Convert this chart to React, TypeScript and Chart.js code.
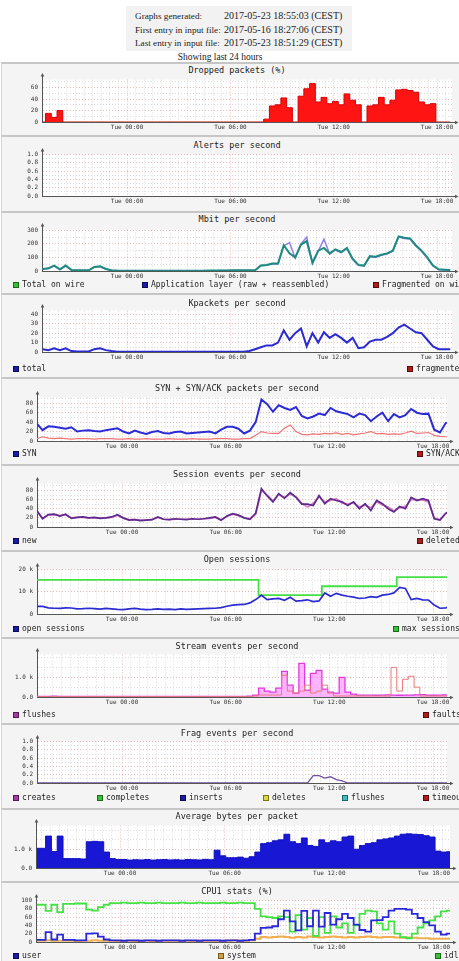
import React, { useEffect, useRef } from "react";
import { Chart, registerables } from "chart.js";

Chart.register(...registerables);

const MONO = "'DejaVu Sans Mono', monospace";
const SERIF = "'Liberation Serif', 'DejaVu Serif', serif";

// ---------- header ----------
const HEADER_ROWS = [
  ["Graphs generated:", "2017-05-23 18:55:03 (CEST)"],
  ["First entry in input file:", "2017-05-16 18:27:06 (CEST)"],
  ["Last entry in input file:", "2017-05-23 18:51:29 (CEST)"],
];
const HEADER_NOTE = "Showing last 24 hours";

// ---------- time axis ----------
const SAMPLE_STEP_H = 1 / 3; // 20 minutes between samples
const X_TICK_HOURS = [0, 6, 12, 18];
const X_TICK_LABELS = ["Tue 00:00", "Tue 06:00", "Tue 12:00", "Tue 18:00"];

// ---------- series (20-min samples) ----------
const DROPPED_PCT = [
  0, 15, 8, 20, 0, 0, 0, 0, 0, 0, 0, 0,
  0, 0, 0, 0, 0, 0, 0, 0, 0, 0, 0, 0,
  0, 0, 0, 0, 0, 0, 0, 0, 0, 0, 0, 0,
  0, 0, 0, 5, 28, 30, 42, 25, 0, 45, 58, 67,
  35, 43, 32, 36, 30, 49, 38, 30, 0, 28, 30, 43,
  30, 38, 56, 57, 55, 52, 35, 30, 32, 0, 0, 0,
];

const MBIT_TOTAL = [
  15, 20, 40, 12, 40, 8, 5, 5, 5, 30, 35, 15,
  5, 3, 2, 2, 1, 2, 2, 2, 1, 2, 2, 2,
  2, 1, 2, 2, 2, 3, 3, 4, 4, 5, 5, 5,
  5, 6, 40, 45, 55, 55, 190, 130, 100, 195, 220, 60,
  150, 170, 130, 160, 140, 170, 90, 45, 40, 110, 105, 120,
  130, 150, 255, 245, 240, 190, 150, 100, 40, 12, 10, 8,
];
const MBIT_APP = [
  14, 19, 38, 11, 38, 7, 4, 4, 4, 28, 33, 14,
  4, 2, 1, 1, 1, 1, 1, 1, 1, 1, 1, 1,
  1, 1, 1, 1, 1, 2, 2, 3, 3, 4, 4, 4,
  4, 5, 38, 43, 52, 52, 185, 210, 95, 200, 250, 56,
  145, 235, 125, 155, 135, 165, 85, 42, 37, 105, 100, 115,
  125, 145, 250, 240, 235, 185, 145, 95, 37, 10, 8, 7,
];

const KPACKETS_TOTAL = [
  3, 2, 4, 2, 4, 1, 0.5, 0.5, 0.5, 3, 4, 2,
  1, 0.3, 0.3, 0.3, 0.3, 0.3, 0.3, 0.3, 0.3, 0.3, 0.3, 0.3,
  0.3, 0.3, 0.3, 0.3, 0.3, 0.3, 0.3, 0.3, 0.3, 0.3, 0.3, 0.3,
  1, 3, 5, 7, 7, 10, 23, 13, 20, 25, 6, 20,
  10, 21, 15, 19, 15, 10, 15, 4, 5, 11, 13, 13,
  16, 20, 26, 29, 25, 21, 20, 13, 6, 3, 3, 3,
];

const SYN = [
  37,
  23, 31, 30, 28, 26, 29, 20, 22, 23, 21, 20, 23,
  25, 27, 20, 16, 22, 18, 15, 19, 21, 17, 16, 19,
  20, 16, 17, 18, 19, 20, 16, 24, 30, 30, 26, 16,
  22, 40, 88, 78, 62, 76, 70, 66, 72, 53, 48, 52,
  58, 55, 70, 63, 60, 57, 50, 58, 55, 42, 52, 60,
  42, 57, 50, 55, 68, 60, 57, 58, 24, 18, 38, 41,
];
const SYN_ACK = [
  5,
  9, 6, 5, 6, 5, 4, 5, 5, 5, 4, 5, 5,
  5, 4, 4, 5, 4, 4, 5, 4, 4, 4, 5, 4,
  4, 4, 5, 4, 4, 4, 5, 5, 5, 4, 4, 5,
  5, 12, 20, 17, 16, 16, 27, 34, 20, 14, 13, 15,
  14, 16, 15, 17, 14, 16, 13, 15, 17, 20, 15, 16,
  14, 15, 14, 17, 21, 16, 17, 18, 12, 10, 9, 9,
];

const SESSION_NEW = [
  36,
  18, 27, 28, 24, 28, 19, 21, 22, 20, 21, 19, 20,
  22, 27, 20, 15, 16, 14, 15, 16, 22, 17, 16, 18,
  17, 16, 18, 17, 18, 20, 22, 15, 24, 29, 26, 20,
  17, 30, 84, 68, 55, 73, 63, 75, 65, 50, 50, 47,
  69, 51, 62, 58, 55, 47, 55, 40, 51, 36, 58, 51,
  40, 33, 45, 40, 65, 58, 62, 58, 18, 15, 30, 38,
];
const SESSION_DELETED = [
  34,
  19, 26, 27, 25, 27, 20, 21, 21, 20, 20, 20, 20,
  21, 26, 19, 16, 16, 15, 15, 16, 21, 17, 16, 17,
  17, 17, 17, 17, 18, 19, 21, 16, 23, 28, 25, 20,
  18, 28, 80, 70, 57, 71, 64, 72, 66, 52, 44, 52,
  66, 55, 58, 62, 52, 50, 53, 44, 48, 42, 55, 48,
  44, 35, 42, 45, 60, 60, 59, 55, 20, 16, 29, 37,
];

const OPEN_SESSIONS = [
  3400,
  3400, 2800, 2600, 2500, 2800, 2700, 2300, 2400, 2600, 2400, 2200, 2500,
  2300, 2100, 2000, 2300, 2500, 2200, 2000, 2100, 2300, 2100, 2200, 2000,
  2300, 2100, 2200, 2300, 2400, 2500, 2600, 2900, 3500, 4000, 4200, 4300,
  5000, 6500, 8400, 6500, 6800, 7000, 6200, 7500, 5800, 6000, 6400, 5600,
  5900, 9500, 8000, 9300, 8500, 8000, 7600, 7000, 7200, 7800, 7500, 8500,
  8800, 9500, 12000, 11500, 6500, 7000, 6400, 6300, 4000, 2600, 2800, 3400,
];
const MAX_SESSIONS = [
  15400,
  15400, 15400, 15400, 15400, 15400, 15400, 15400, 15400, 15400, 15400, 15400, 15400,
  15400, 15400, 15400, 15400, 15400, 15400, 15400, 15400, 15400, 15400, 15400, 15400,
  15400, 15400, 15400, 15400, 15400, 15400, 15400, 15400, 15400, 15400, 15400, 15400,
  15400, 15400, 8500, 8500, 8500, 8500, 8500, 8500, 8500, 8500, 8500, 8500,
  8500, 12500, 12500, 12500, 12500, 12500, 12500, 12500, 12500, 12500, 12500, 12500,
  12500, 12500, 16600, 16600, 16600, 16600, 16600, 16600, 16600, 16600, 16600, 16600,
];

const STREAM_FLUSHES = [
  30,
  30, 30, 40, 30, 30, 30, 30, 30, 30, 30, 30, 30,
  30, 30, 25, 30, 30, 30, 25, 30, 30, 30, 30, 30,
  30, 30, 30, 30, 30, 30, 30, 30, 30, 35, 35, 35,
  40, 100, 450, 300, 250, 450, 1300, 600, 200, 1700, 350, 1200,
  1350, 400, 250, 200, 1000, 250, 150, 100, 100, 100, 90, 100,
  110, 100, 90, 100, 100, 110, 120, 100, 90, 100, 110, 120,
];
const STREAM_FAULTS = [
  20,
  20, 20, 20, 20, 20, 20, 20, 20, 20, 20, 20, 20,
  20, 20, 20, 20, 20, 20, 20, 20, 20, 20, 20, 20,
  20, 20, 20, 20, 20, 20, 20, 20, 20, 20, 20, 20,
  20, 50, 100, 100, 100, 100, 1100, 300, 200, 300, 600, 200,
  300, 600, 200, 50, 50, 50, 50, 50, 50, 50, 50, 50,
  50, 1500, 300, 900, 1050, 500, 50, 50, 50, 50, 50, 50,
];

const FRAG_CREATES = [
  0,
  0, 0, 0, 0, 0, 0, 0, 0, 0, 0, 0, 0,
  0, 0, 0, 0, 0, 0, 0, 0, 0, 0, 0, 0,
  0, 0, 0, 0, 0, 0, 0, 0, 0, 0, 0, 0,
  0, 0, 0, 0, 0, 0, 0, 0, 0, 0, 0, 0.18,
  0.18, 0.12, 0.15, 0.08, 0.05, 0, 0, 0, 0, 0, 0, 0,
  0, 0, 0, 0, 0, 0, 0, 0, 0, 0, 0, 0,
];

const AVG_BYTES = [
  1050,
  1050, 1700, 880, 1700, 500, 500, 500, 480, 1400, 1420, 1400, 850,
  500, 450, 450, 420, 440, 430, 450, 420, 440, 450, 430, 440,
  420, 450, 440, 430, 460, 440, 950, 650, 550, 550, 580, 520,
  600, 850, 1300, 1350, 1450, 1500, 1800, 1400, 1300, 1600, 1200, 1150,
  1500, 1350, 1450, 1400, 1650, 1700, 1000, 1200, 1300, 1350, 1500, 1550,
  1600, 1700, 1800, 1820, 1800, 1780, 1720, 1650, 900, 850, 870, 870,
];

const CPU_USER = [
  5,
  5, 24, 6, 18, 5, 5, 4, 4, 20, 21, 13, 6,
  4, 4, 3, 4, 4, 3, 4, 4, 3, 4, 4, 4,
  3, 4, 4, 3, 4, 4, 4, 3, 4, 4, 3, 4,
  5, 20, 34, 35, 38, 55, 76, 50, 28, 75, 38, 76,
  37, 70, 42, 55, 68, 58, 42, 29, 25, 52, 53, 60,
  76, 80, 80, 78, 68, 58, 48, 40, 25, 18, 20, 21,
];
const CPU_SYSTEM = [
  3,
  3, 4, 3, 3, 3, 3, 2, 3, 3, 4, 3, 3,
  3, 2, 3, 3, 2, 3, 3, 2, 3, 3, 3, 3,
  3, 3, 2, 3, 3, 3, 3, 3, 3, 4, 3, 3,
  4, 8, 12, 11, 12, 13, 12, 10, 12, 11, 13, 12,
  11, 12, 13, 12, 11, 12, 11, 12, 13, 12, 11, 12,
  12, 11, 10, 11, 10, 9, 9, 8, 8, 8, 8, 8,
];
const CPU_IDLE = [
  90,
  90, 75, 90, 72, 92, 92, 93, 93, 78, 76, 84, 90,
  94, 94, 95, 94, 94, 95, 94, 94, 95, 94, 94, 94,
  95, 94, 94, 95, 94, 94, 94, 95, 94, 94, 95, 94,
  94, 80, 62, 60, 58, 62, 60, 25, 65, 30, 58, 15,
  60, 22, 62, 35, 45, 22, 40, 68, 76, 74, 45, 30,
  50, 20, 12, 9, 20, 35, 45, 52, 62, 74, 76, 72,
];

// ---------- y tick labels ----------
const Y_FRACTION_TICKS = [0, 0.2, 0.4, 0.6, 0.8, 1.0];
const Y_FRACTION_LABELS = ["0.0", "0.2", "0.4", "0.6", "0.8", "1.0"];

// ---------- layout ----------
const PAD_TOP = 7;
const X_AXIS_H = 12;
const TOP_AXIS = { axisW: 42, padRight: 7, xMin: -4.94, xMax: 18.87, sampleStart: -4.9 };
const MID_AXIS = { axisW: 37, padRight: 12, xMin: -4.92, xMax: 18.81, sampleStart: -4.93 };
const LOW_AXIS = { axisW: 36, padRight: 9, xMin: -4.82, xMax: 18.92, sampleStart: -4.77 };

const SQ = {
  green: ["#36c236", "#1a6a1a"],
  blue: ["#1c1ca8", "#0a0a55"],
  red: ["#b41c1c", "#5a0a0a"],
  purple: ["#a43ca4", "#521a52"],
  yellow: ["#d8d840", "#77771a"],
  cyan: ["#40bcbc", "#1a6666"],
  orange: ["#d0a048", "#7a5a1a"],
};

type Series = { label: string; values: number[]; line: string; width: number; fill?: string; step?: boolean };
type LegendItem = { label: string; sq: string[]; x: number };
type PanelSpec = {
  title: string; top: number; bottom: number; titleY: number;
  plotTop: number; plotBottom: number;
  axis: { axisW: number; padRight: number; xMin: number; xMax: number; sampleStart: number };
  yMax: number; yTicks: number[]; yLabels: string[];
  series: Series[]; legend?: LegendItem[]; legendY?: number;
};

const PANELS: PanelSpec[] = [
  {
    title: "Dropped packets (%)", top: 62, bottom: 135, titleY: 70, plotTop: 79, plotBottom: 122,
    axis: TOP_AXIS, yMax: 74, yTicks: [0, 20, 40, 60], yLabels: ["0", "20", "40", "60"],
    series: [{ label: "dropped", values: DROPPED_PCT, line: "#d40000", width: 1, fill: "#ff1414", step: true }],
  },
  {
    title: "Alerts per second", top: 135, bottom: 211, titleY: 145, plotTop: 154, plotBottom: 196,
    axis: TOP_AXIS, yMax: 1, yTicks: Y_FRACTION_TICKS, yLabels: Y_FRACTION_LABELS, series: [],
  },
  {
    title: "Mbit per second", top: 211, bottom: 293, titleY: 219, plotTop: 229, plotBottom: 271,
    axis: TOP_AXIS, yMax: 305, yTicks: [0, 100, 200, 300], yLabels: ["0", "100", "200", "300"],
    series: [
      { label: "Total on wire", values: MBIT_TOTAL, line: "#1c8c80", width: 2 },
      { label: "Application layer (raw + reassembled)", values: MBIT_APP, line: "#9080e6", width: 1.5 },
    ],
    legendY: 285,
    legend: [
      { label: "Total on wire", sq: SQ.green, x: 13 },
      { label: "Application layer (raw + reassembled)", sq: SQ.blue, x: 142 },
      { label: "Fragmented on wire", sq: SQ.red, x: 373 },
    ],
  },
  {
    title: "Kpackets per second", top: 293, bottom: 377, titleY: 303, plotTop: 310, plotBottom: 352,
    axis: TOP_AXIS, yMax: 44, yTicks: [0, 10, 20, 30, 40], yLabels: ["0", "10", "20", "30", "40"],
    series: [{ label: "total", values: KPACKETS_TOTAL, line: "#2a2ad2", width: 2 }],
    legendY: 369,
    legend: [
      { label: "total", sq: SQ.blue, x: 13 },
      { label: "fragmented", sq: SQ.red, x: 407 },
    ],
  },
  {
    title: "SYN + SYN/ACK packets per second", top: 377, bottom: 464, titleY: 388, plotTop: 397, plotBottom: 441,
    axis: MID_AXIS, yMax: 92, yTicks: [0, 20, 40, 60, 80], yLabels: ["0", "20", "40", "60", "80"],
    series: [
      { label: "SYN", values: SYN, line: "#2b2bd6", width: 2 },
      { label: "SYN/ACK", values: SYN_ACK, line: "#f07474", width: 1.2 },
    ],
    legendY: 454,
    legend: [
      { label: "SYN", sq: SQ.blue, x: 13 },
      { label: "SYN/ACK", sq: SQ.red, x: 417 },
    ],
  },
  {
    title: "Session events per second", top: 464, bottom: 550, titleY: 474, plotTop: 483, plotBottom: 527,
    axis: MID_AXIS, yMax: 95, yTicks: [0, 20, 40, 60, 80], yLabels: ["0", "20", "40", "60", "80"],
    series: [
      { label: "new", values: SESSION_NEW, line: "#5c2a8e", width: 1.7 },
      { label: "deleted", values: SESSION_DELETED, line: "#e27ec0", width: 1.7 },
    ],
    legendY: 541,
    legend: [
      { label: "new", sq: SQ.blue, x: 13 },
      { label: "deleted", sq: SQ.red, x: 417 },
    ],
  },
  {
    title: "Open sessions", top: 550, bottom: 637, titleY: 559, plotTop: 569, plotBottom: 614,
    axis: MID_AXIS, yMax: 20000, yTicks: [0, 10000, 20000], yLabels: ["0", "10 k", "20 k"],
    series: [
      { label: "open sessions", values: OPEN_SESSIONS, line: "#2b2bd2", width: 1.7 },
      { label: "max sessions", values: MAX_SESSIONS, line: "#44e044", width: 1.8, step: true },
    ],
    legendY: 629,
    legend: [
      { label: "open sessions", sq: SQ.blue, x: 13 },
      { label: "max sessions", sq: SQ.green, x: 393 },
    ],
  },
  {
    title: "Stream events per second", top: 637, bottom: 723, titleY: 646, plotTop: 654, plotBottom: 697,
    axis: MID_AXIS, yMax: 2150, yTicks: [0, 1000], yLabels: ["0.0", "1.0 k"],
    series: [
      { label: "faults", values: STREAM_FAULTS, line: "#e87a7a", width: 1, step: true },
      { label: "flushes", values: STREAM_FLUSHES, line: "#dd3cdd", width: 1.3, fill: "rgba(255,130,255,0.6)", step: true },
    ],
    legendY: 715,
    legend: [
      { label: "flushes", sq: SQ.purple, x: 13 },
      { label: "faults", sq: SQ.red, x: 423 },
    ],
  },
  {
    title: "Frag events per second", top: 723, bottom: 808, titleY: 733, plotTop: 741, plotBottom: 783,
    axis: MID_AXIS, yMax: 1, yTicks: Y_FRACTION_TICKS, yLabels: Y_FRACTION_LABELS,
    series: [{ label: "creates", values: FRAG_CREATES, line: "#74509e", width: 1.3 }],
    legendY: 798,
    legend: [
      { label: "creates", sq: SQ.purple, x: 13 },
      { label: "completes", sq: SQ.green, x: 97 },
      { label: "inserts", sq: SQ.blue, x: 180 },
      { label: "deletes", sq: SQ.yellow, x: 263 },
      { label: "flushes", sq: SQ.cyan, x: 342 },
      { label: "timeouts", sq: SQ.red, x: 423 },
    ],
  },
  {
    title: "Average bytes per packet", top: 808, bottom: 881, titleY: 816, plotTop: 825, plotBottom: 868,
    axis: LOW_AXIS, yMax: 2260, yTicks: [0, 1000], yLabels: ["0.0", "1.0 k"],
    series: [{ label: "bytes", values: AVG_BYTES, line: "#1010c0", width: 1, fill: "#1818d4", step: true }],
  },
  {
    title: "CPU1 stats (%)", top: 881, bottom: 961, titleY: 891, plotTop: 900, plotBottom: 942,
    axis: LOW_AXIS, yMax: 100, yTicks: [0, 20, 40, 60, 80, 100], yLabels: ["0", "20", "40", "60", "80", "100"],
    series: [
      { label: "user", values: CPU_USER, line: "#2828d8", width: 1.8, step: true },
      { label: "idle", values: CPU_IDLE, line: "#44e044", width: 1.8, step: true },
      { label: "system", values: CPU_SYSTEM, line: "#f2ae52", width: 2, step: true },
    ],
    legendY: 956,
    legend: [
      { label: "user", sq: SQ.blue, x: 13 },
      { label: "system", sq: SQ.orange, x: 218 },
      { label: "idle", sq: SQ.green, x: 435 },
    ],
  },
];

const MINOR_GRID = "#dcdcdc";
const MAJOR_GRID = "rgba(225,140,140,0.6)";
const AXIS_COLOR = "#555";

const rrdPlugin = {
  id: "rrdLook",
  beforeDraw(chart: any) {
    const { ctx, chartArea: a } = chart;
    ctx.save();
    ctx.fillStyle = "#ffffff";
    ctx.fillRect(a.left, a.top, a.right - a.left, a.bottom - a.top);
    ctx.restore();
  },
  afterDraw(chart: any) {
    const { ctx, chartArea: a } = chart;
    ctx.save();
    ctx.strokeStyle = AXIS_COLOR;
    ctx.fillStyle = AXIS_COLOR;
    ctx.lineWidth = 1;
    const lx = Math.round(a.left) + 0.5;
    const by = Math.round(a.bottom) + 0.5;
    ctx.beginPath();
    ctx.moveTo(lx, a.top);
    ctx.lineTo(lx, a.top - 4);
    ctx.moveTo(a.right, by);
    ctx.lineTo(a.right + 4, by);
    ctx.stroke();
    ctx.beginPath();
    ctx.moveTo(lx - 1.8, a.top - 3);
    ctx.lineTo(lx + 1.8, a.top - 3);
    ctx.lineTo(lx, a.top - 6.5);
    ctx.closePath();
    ctx.fill();
    ctx.beginPath();
    ctx.moveTo(a.right + 3, by - 1.8);
    ctx.lineTo(a.right + 3, by + 1.8);
    ctx.lineTo(a.right + 6.5, by);
    ctx.closePath();
    ctx.fill();
    ctx.restore();
  },
};

function near(list: number[], v: number) {
  return list.findIndex((t) => Math.abs(t - v) < 1e-9);
}

function buildChart(canvas: HTMLCanvasElement, p: PanelSpec) {
  const half = (p.yTicks[1] - p.yTicks[0]) / 2;
  const yGrid: number[] = [];
  for (let k = 0; k * half <= p.yMax + 1e-9; k++) yGrid.push(Math.round(k * half * 1e6) / 1e6);
  const xGrid: number[] = [];
  for (let h = Math.ceil(p.axis.xMin * 2) / 2; h <= p.axis.xMax; h += 0.5) xGrid.push(h);

  const datasets = p.series.map((s) => ({
    label: s.label,
    data: s.values.map((v, i) => ({ x: p.axis.sampleStart + i * SAMPLE_STEP_H, y: v })),
    borderColor: s.line,
    borderWidth: s.width,
    backgroundColor: s.fill || "transparent",
    fill: s.fill ? "origin" : false,
    stepped: s.step ? "middle" : false,
    pointRadius: 0,
    tension: 0,
    spanGaps: false,
    borderJoinStyle: "miter",
  }));

  const tickFont = { family: MONO, size: 6 };

  return new Chart(canvas, {
    type: "line",
    data: { datasets } as any,
    options: {
      animation: false,
      responsive: false,
      maintainAspectRatio: false,
      events: [],
      layout: { padding: { top: PAD_TOP, right: p.axis.padRight, left: 0, bottom: 0 } },
      plugins: { legend: { display: false }, tooltip: { enabled: false }, title: { display: false } },
      scales: {
        x: {
          type: "linear",
          min: p.axis.xMin,
          max: p.axis.xMax,
          afterBuildTicks: (axis: any) => {
            axis.ticks = xGrid.map((v) => ({ value: v }));
          },
          afterFit: (axis: any) => {
            axis.height = X_AXIS_H;
          },
          ticks: {
            autoSkip: false,
            maxRotation: 0,
            padding: 1.5,
            font: tickFont,
            color: "#333",
            callback: (v: any) => {
              const k = near(X_TICK_HOURS, Number(v));
              return k >= 0 ? X_TICK_LABELS[k] : "";
            },
          },
          grid: {
            drawTicks: false,
            lineWidth: 1,
            color: (ctx: any) => (ctx.tick && near(X_TICK_HOURS, ctx.tick.value) >= 0 ? MAJOR_GRID : MINOR_GRID),
          },
          border: { display: true, color: AXIS_COLOR, width: 1, dash: [1, 2] },
        },
        y: {
          type: "linear",
          min: 0,
          max: p.yMax,
          afterBuildTicks: (axis: any) => {
            axis.ticks = yGrid.map((v) => ({ value: v }));
          },
          afterFit: (axis: any) => {
            axis.width = p.axis.axisW;
          },
          ticks: {
            autoSkip: false,
            padding: 4,
            font: tickFont,
            color: "#333",
            callback: (v: any) => {
              const k = near(p.yTicks, Number(v));
              return k >= 0 ? p.yLabels[k] : "";
            },
          },
          grid: {
            drawTicks: false,
            lineWidth: 1,
            color: (ctx: any) => (ctx.tick && ctx.tick.value > 0 && near(p.yTicks, ctx.tick.value) >= 0 ? MAJOR_GRID : MINOR_GRID),
          },
          border: { display: true, color: AXIS_COLOR, width: 1, dash: [1, 2] },
        },
      },
    } as any,
    plugins: [rrdPlugin],
  });
}

function PanelChart({ spec }: { spec: PanelSpec }) {
  const ref = useRef<HTMLCanvasElement | null>(null);
  const h = PAD_TOP + (spec.plotBottom - spec.plotTop) + X_AXIS_H;
  useEffect(() => {
    if (!ref.current) return;
    const chart = buildChart(ref.current, spec);
    return () => chart.destroy();
  }, [spec]);
  return (
    <div style={{ position: "absolute", left: 0, top: spec.plotTop - PAD_TOP, width: 459, height: h }}>
      <canvas ref={ref} width={459} height={h} style={{ display: "block", width: 459, height: h }} />
    </div>
  );
}

function Panel({ spec }: { spec: PanelSpec }) {
  return (
    <>
      <div
        style={{
          position: "absolute",
          left: 1,
          top: spec.top,
          width: 480,
          height: spec.bottom - spec.top,
          background: "#f4f4f4",
          borderTop: "2px solid #c6c6c6",
          borderLeft: "1px solid #d6d6d6",
          boxSizing: "border-box",
        }}
      />
      <div
        style={{
          position: "absolute",
          left: 0,
          width: 474,
          top: spec.titleY - 6,
          height: 12,
          lineHeight: "12px",
          textAlign: "center",
          fontFamily: MONO,
          fontSize: 8.5,
          color: "#222",
          whiteSpace: "pre",
        }}
      >
        {spec.title}
      </div>
      <PanelChart spec={spec} />
      {spec.legend &&
        spec.legend.map((it) => (
          <React.Fragment key={it.label + it.x}>
            <div
              style={{
                position: "absolute",
                left: it.x,
                top: (spec.legendY as number) - 3,
                width: 6,
                height: 6,
                background: it.sq[0],
                border: `1px solid ${it.sq[1]}`,
                boxSizing: "border-box",
              }}
            />
            <div
              style={{
                position: "absolute",
                left: it.x + 9,
                top: (spec.legendY as number) - 6,
                height: 12,
                lineHeight: "12px",
                fontFamily: MONO,
                fontSize: 8,
                color: "#222",
                whiteSpace: "pre",
              }}
            >
              {it.label}
            </div>
          </React.Fragment>
        ))}
    </>
  );
}

export default function App() {
  const rowYs = [16, 30, 43];
  const textBase = {
    position: "absolute" as const,
    lineHeight: "14px",
    fontFamily: SERIF,
    color: "#222",
    whiteSpace: "pre" as const,
  };
  return (
    <div
      style={{
        position: "absolute",
        left: 0,
        top: 0,
        width: 459,
        height: 961,
        overflow: "hidden",
        background: "#ffffff",
      }}
    >
      <div style={{ position: "absolute", left: 126, top: 6, width: 226, height: 45, background: "#f2f2f2" }} />
      {HEADER_ROWS.map((r, i) => (
        <React.Fragment key={r[0]}>
          <div style={{ ...textBase, left: 135, top: rowYs[i] - 7, fontSize: 9.2 }}>{r[0]}</div>
          <div style={{ ...textBase, left: 224, top: rowYs[i] - 7, fontSize: 10 }}>{r[1]}</div>
        </React.Fragment>
      ))}
      <div style={{ ...textBase, left: 120, width: 200, top: 57 - 7, textAlign: "center", fontSize: 9.5 }}>
        {HEADER_NOTE}
      </div>
      {PANELS.map((p) => (
        <Panel key={p.title} spec={p} />
      ))}
    </div>
  );
}
